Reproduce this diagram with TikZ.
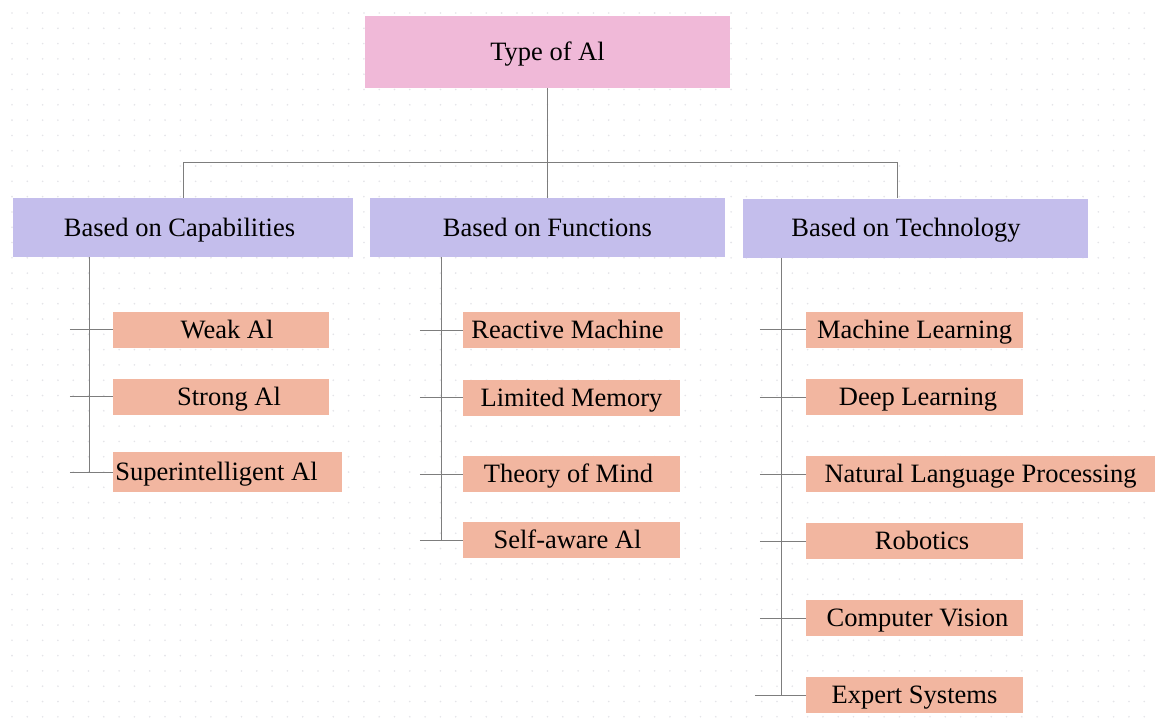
\documentclass[tikz,border=0pt]{standalone}
\usepackage{fontspec}
\setmainfont{Liberation Serif}
\definecolor{pinkbox}{RGB}{240,185,216}
\definecolor{lavbox}{RGB}{196,190,236}
\definecolor{salbox}{RGB}{242,182,160}
\definecolor{linec}{RGB}{125,125,125}
\definecolor{dotc}{RGB}{228,228,232}
\tikzset{
  basebox/.style={inner sep=0pt, text height=17.4pt, text depth=0pt, font=\fontsize{26.5}{30}\selectfont},
  rootbox/.style={basebox, fill=pinkbox, minimum width=365pt, minimum height=72pt},
  catbox/.style={basebox, fill=lavbox, minimum height=59pt},
  leafbox/.style={basebox, fill=salbox, minimum height=36pt},
  conn/.style={draw=linec, line width=1pt},
}
\begin{document}
\begin{tikzpicture}[x=1pt,y=-1pt]
\useasboundingbox (0,0) rectangle (1155,717);
\fill[white] (0,0) rectangle (1155,717);
% dotted background
\foreach \i in {0,...,75}{
  \foreach \j in {0,...,46}{
    \fill[dotc] (12+15.3*\i, 13+15.3*\j) circle (0.9);
  }
}
% root
\node[rootbox] (root) at (547.5,52) {Type of Al};
% categories
\node[catbox, minimum width=340pt] (cap) at (183,227.5) {Based on Capabilities\hspace*{7pt}};
\node[catbox, minimum width=355pt] (fun) at (547.5,227.5) {Based on Functions};
\node[catbox, minimum width=345pt] (tech) at (915.5,228) {Based on Technology\hspace*{19pt}};
% capability leaves
\node[leafbox, minimum width=216pt] (weak) at (221,329.5) {\hspace*{12pt}Weak Al};
\node[leafbox, minimum width=216pt] (strong) at (221,396.5) {\hspace*{16pt}Strong Al};
\node[leafbox, minimum width=229pt, minimum height=40pt] (super) at (227.5,472) {Superintelligent Al\hspace*{22pt}};
% function leaves
\node[leafbox, minimum width=217pt] (react) at (571.5,330) {Reactive Machine\hspace*{8pt}};
\node[leafbox, minimum width=217pt] (limited) at (571.5,397.5) {Limited Memory};
\node[leafbox, minimum width=217pt] (theory) at (571.5,474) {Theory of Mind\hspace*{6pt}};
\node[leafbox, minimum width=217pt] (self) at (571.5,540) {Self-aware Al\hspace*{8pt}};
% technology leaves
\node[leafbox, minimum width=217pt] (ml) at (914.5,329.5) {Machine Learning};
\node[leafbox, minimum width=217pt] (dl) at (914.5,397) {\hspace*{7pt}Deep Learning};
\node[leafbox, minimum width=349pt] (nlp) at (980.5,474) {Natural Language Processing};
\node[leafbox, minimum width=217pt] (rob) at (914.5,541) {\hspace*{15pt}Robotics};
\node[leafbox, minimum width=217pt] (cv) at (914.5,618) {\hspace*{6pt}Computer Vision};
\node[leafbox, minimum width=217pt] (es) at (914.5,695) {Expert Systems};
% top connectors
\coordinate (bus) at (547.5,162.5);
\coordinate (techdrop) at ([xshift=-18.5pt]tech.north);
\draw[conn] (root.south) -- (fun.north);
\draw[conn] (cap.north) |- (bus) -| (techdrop);
% capability spine
\coordinate (capsp) at ([xshift=77pt]cap.south west);
\draw[conn] (capsp) -- (capsp |- super.west);
\foreach \n in {weak,strong,super}{
  \draw[conn] ([xshift=-20pt]capsp |- \n.west) -- (\n.west);
}
% function spine
\coordinate (funsp) at ([xshift=72pt]fun.south west);
\draw[conn] (funsp) -- (funsp |- self.west);
\foreach \n in {react,limited,theory,self}{
  \draw[conn] ([xshift=-22pt]funsp |- \n.west) -- (\n.west);
}
% technology spine
\coordinate (techsp) at ([xshift=39pt]tech.south west);
\draw[conn] (techsp) -- (techsp |- es.west);
\foreach \n in {ml,dl,nlp,rob,cv}{
  \draw[conn] ([xshift=-22pt]techsp |- \n.west) -- (\n.west);
}
\draw[conn] ([xshift=-27pt]techsp |- es.west) -- (es.west);
\end{tikzpicture}
\end{document}
